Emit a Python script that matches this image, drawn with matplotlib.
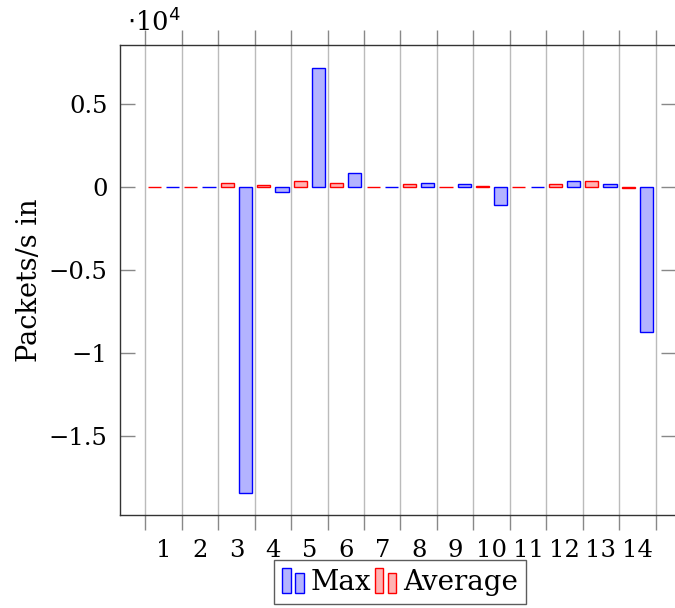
import matplotlib
matplotlib.use("Agg")
import matplotlib.pyplot as plt
from matplotlib.patches import Rectangle
from matplotlib.legend_handler import HandlerBase
from matplotlib.ticker import FixedLocator, FuncFormatter
import numpy as np

categories = [str(i) for i in range(1, 15)]
max_vals = [0, 0, -18440, -280, 7170, 820, 0, 220, 150, -1080, 0, 380, 150, -8730]
avg_vals = [0, 0, 220, 90, 380, 220, 0, 150, 20, 80, 0, 200, 340, -80]
ytick_vals = [-15000, -10000, -5000, 0, 5000]

plt.rcParams['font.family'] = ['DejaVu Serif']
FS = 17.5

BLUE_FACE = (0.7, 0.7, 1.0)
RED_FACE = (1.0, 0.7, 0.7)

fig = plt.figure(figsize=(6.75, 6.08), dpi=100)
ax = fig.add_axes([120/675, 1-515/608, 556/675, 470/608])

x = np.arange(1, len(categories) + 1)
w = 0.36
off = 0.25
ax.bar(x - off, avg_vals, width=w, facecolor=RED_FACE, edgecolor='red', linewidth=1.0, zorder=3, label='Average')
ax.bar(x + off, max_vals, width=w, facecolor=BLUE_FACE, edgecolor='blue', linewidth=1.0, zorder=3, label='Max')

ax.set_xlim(-0.193, 15.06)
ax.set_ylim(-19760, 8550)

ax.xaxis.set_major_locator(FixedLocator(np.arange(0.5, 15.0, 1.0)))
ax.xaxis.set_major_formatter(FuncFormatter(lambda v, p: ""))
ax.xaxis.set_minor_locator(FixedLocator(x))
ax.set_xticklabels(categories, minor=True)
ax.tick_params(axis='x', which='major', direction='out', length=11, width=1, color='#888888', top=True, bottom=True)
ax.tick_params(axis='x', which='minor', length=0, labelsize=FS, pad=17)
ax.grid(axis='x', which='major', color='#bbbbbb', linewidth=1.0, zorder=0)

ax.yaxis.set_major_locator(FixedLocator(ytick_vals))
ax.yaxis.set_major_formatter(FuncFormatter(lambda v, p: ("%g" % (v/1e4)).replace('-', '\u2212')))
ax.tick_params(axis='y', which='major', direction='in', length=11, width=1, color='#888888', left=True, right=True, labelsize=FS, pad=9)

for s in ax.spines.values():
    s.set_color('#333333')
    s.set_linewidth(1.0)

ax.set_ylabel('Packets/s in', fontsize=FS + 2, labelpad=4)
fig.text(127/675, 1-22/608, r'$\cdot$10$^4$', fontsize=FS + 1, va='center', ha='left')


class TwoBarHandler(HandlerBase):
    def __init__(self, face, edge):
        super().__init__()
        self.face = face
        self.edge = edge

    def create_artists(self, legend, orig_handle, xdescent, ydescent, width, height, fontsize, trans):
        bw = width * 0.36
        r1 = Rectangle((-xdescent, -ydescent - height * 0.2), bw, height * 1.3,
                       facecolor=self.face, edgecolor=self.edge, lw=1.0, transform=trans)
        r2 = Rectangle((-xdescent + width * 0.55, -ydescent - height * 0.2), bw, height * 1.05,
                       facecolor=self.face, edgecolor=self.edge, lw=1.0, transform=trans)
        return [r1, r2]


hmax = Rectangle((0, 0), 1, 1)
havg = Rectangle((0, 0), 1, 1)
leg = fig.legend([hmax, havg], ['Max', 'Average'],
                 handler_map={hmax: TwoBarHandler(BLUE_FACE, 'blue'), havg: TwoBarHandler(RED_FACE, 'red')},
                 loc='center', bbox_to_anchor=(400/675, 1-582/608), ncol=2, fontsize=FS + 2.5,
                 frameon=True, fancybox=False, edgecolor='#333333', handlelength=0.85,
                 handletextpad=0.15, columnspacing=0.15, borderpad=0.3, borderaxespad=0)
leg.get_frame().set_linewidth(1.0)

fig.savefig('out.png', dpi=100)
